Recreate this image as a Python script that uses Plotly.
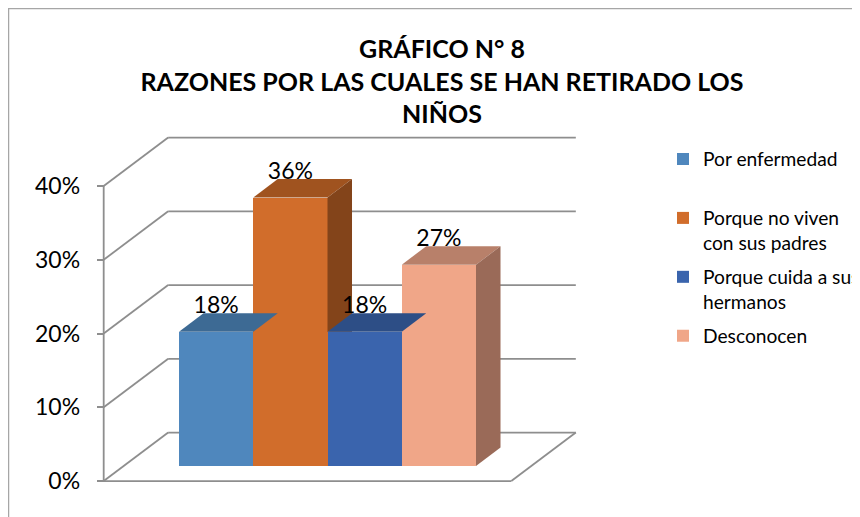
import plotly.graph_objects as go

# ---------------- data ----------------
categories = ["Por enfermedad", "Porque no viven<br>con sus padres",
              "Porque cuida a sus<br>hermanos", "Desconocen"]
values = [18.2, 36.4, 18.2, 27.3]          # percent
value_labels = ["18%", "36%", "18%", "27%"]
tick_values = [0, 10, 20, 30, 40]
tick_labels = ["0%", "10%", "20%", "30%", "40%"]

front_colors = ["#4F87BD", "#D16D2B", "#3A64AD", "#F0A688"]
top_colors = ["#3D6A94", "#A0531F", "#2D4E86", "#B8806A"]
side_colors = ["#355C82", "#83441A", "#263F6E", "#9A6A58"]

# ---------------- layout / projection constants ----------------
OFF = 8                      # page body margin of the html page
W, H = 860 - OFF, 517 - OFF
# plot area, in page pixels
PG_L, PG_R, PG_T, PG_B = 90, 600, 115, 495
PX_L, PX_R, PX_T, PX_B = PG_L - OFF, PG_R - OFF, PG_T - OFF, PG_B - OFF
UNIT_X, UNIT_Y = 74.25, 7.375       # px per category, px per percent
BAR0_LEFT_PX, BASE_PX = 179 - OFF, 466 - OFF
X0 = -0.5 - (BAR0_LEFT_PX - PX_L) / UNIT_X
X1 = X0 + (PX_R - PX_L) / UNIT_X
Y0 = -(PX_B - BASE_PX) / UNIT_Y
Y1 = (BASE_PX - PX_T) / UNIT_Y

DEPTH_X = 64.5 / UNIT_X
DEPTH_Y = 48.5 / UNIT_Y
D_FRONT, D_BACK = 0.31, 0.69
U_LEFT, U_RIGHT = -1.245, 4.245
FRAME = "#8E8E8E"
FONT = "Lato"


def proj(u, v, d):
    return u + (d - D_FRONT) * DEPTH_X, v + (d - D_FRONT) * DEPTH_Y


bdx = (D_BACK - D_FRONT) * DEPTH_X
bdy = (D_BACK - D_FRONT) * DEPTH_Y

fig = go.Figure()

# front faces (bars); single-line names padded to two lines for even spacing
for i, (name, v) in enumerate(zip(categories, values)):
    nm = name if "<br>" in name else name + "<br> "
    fig.add_trace(go.Bar(
        x=[i], y=[v], width=1, name=nm, legendgroup=f"g{i}",
        marker=dict(color=front_colors[i], line=dict(width=0)),
        hoverinfo="skip"))

# tops and visible sides, painter's order left to right
for i, v in enumerate(values):
    a, b = i - 0.5, i + 0.5
    fig.add_trace(go.Scatter(
        x=[a, b, b + bdx, a + bdx, a], y=[v, v, v + bdy, v + bdy, v],
        mode="lines", fill="toself", fillcolor=top_colors[i],
        line=dict(width=0, color=top_colors[i]), showlegend=False,
        legendgroup=f"g{i}", hoverinfo="skip"))
    nxt = values[i + 1] if i + 1 < len(values) else 0
    if nxt < v + bdy:
        lo_front = max(nxt, 0)
        lo_back = max(nxt, bdy)
        fig.add_trace(go.Scatter(
            x=[b, b, b + bdx, b + bdx, b],
            y=[lo_front, v, v + bdy, lo_back, lo_front],
            mode="lines", fill="toself", fillcolor=side_colors[i],
            line=dict(width=0, color=side_colors[i]), showlegend=False,
            legendgroup=f"g{i}", hoverinfo="skip"))

# data labels
fig.add_trace(go.Scatter(
    x=list(range(len(values))), y=[v + bdy - 0.8 for v in values],
    mode="text", text=value_labels, textposition="top center",
    textfont=dict(family=FONT, size=23, color="black"),
    showlegend=False, hoverinfo="skip", cliponaxis=False))

# frame (walls and floor) as shapes below traces
shapes = []


def seg(p, q):
    shapes.append(dict(type="line", xref="x", yref="y", layer="below",
                       x0=p[0], y0=p[1], x1=q[0], y1=q[1],
                       line=dict(color=FRAME, width=1.8)))


for t in tick_values:
    seg(proj(U_LEFT, t, 1), proj(U_RIGHT, t, 1))
    seg(proj(U_LEFT, t, 0), proj(U_LEFT, t, 1))
seg(proj(U_LEFT, 0, 0), proj(U_LEFT, tick_values[-1], 0))
seg(proj(U_LEFT, 0, 0), proj(U_RIGHT, 0, 0))
seg(proj(U_RIGHT, 0, 0), proj(U_RIGHT, 0, 1))

# outer chart border
pw, ph = PX_R - PX_L, PX_B - PX_T
shapes.append(dict(type="rect", xref="paper", yref="paper", layer="below",
                   x0=(0.5 - PX_L) / pw, x1=(W + 10 - PX_L) / pw,
                   y0=(PX_B - (H + 10)) / ph, y1=(PX_B - 0.6) / ph,
                   line=dict(color="#A6A6A6", width=1.5)))

axis_pos = (proj(U_LEFT, 0, 0)[0] - X0) / (X1 - X0)

fig.update_layout(
    width=W, height=H,
    margin=dict(l=PX_L, r=W - PX_R, t=PX_T, b=H - PX_B, autoexpand=False),
    paper_bgcolor="white", plot_bgcolor="rgba(0,0,0,0)",
    barmode="overlay", bargap=0,
    shapes=shapes,
    title=dict(
        text="GRÁFICO N° 8<br>RAZONES POR LAS CUALES SE HAN RETIRADO LOS<br>NIÑOS",
        x=(442 - OFF) / W, xanchor="center", y=1 - 50 / H, yanchor="top",
        font=dict(family=FONT, size=25, color="black", weight=700)),
    xaxis=dict(range=[X0, X1], visible=False, fixedrange=True,
               automargin=False),
    yaxis=dict(range=[Y0, Y1], anchor="free", position=axis_pos,
               automargin=False,
               tickvals=[t - D_FRONT * DEPTH_Y for t in tick_values],
               ticktext=tick_labels, ticks="outside", ticklen=7,
               tickcolor=FRAME, tickwidth=1.5, ticklabelstandoff=12,
               showgrid=False, zeroline=False, showline=False,
               tickfont=dict(family=FONT, size=23, color="black")),
    legend=dict(x=(655 - PX_L) / pw, xanchor="left",
                y=(PX_B - (140 - OFF)) / ph, yanchor="top",
                valign="top", tracegroupgap=6, traceorder="grouped",
                font=dict(family=FONT, size=19.2, color="black"),
                bgcolor="rgba(0,0,0,0)"),
    showlegend=True,
)

fig.write_html("out.html")
